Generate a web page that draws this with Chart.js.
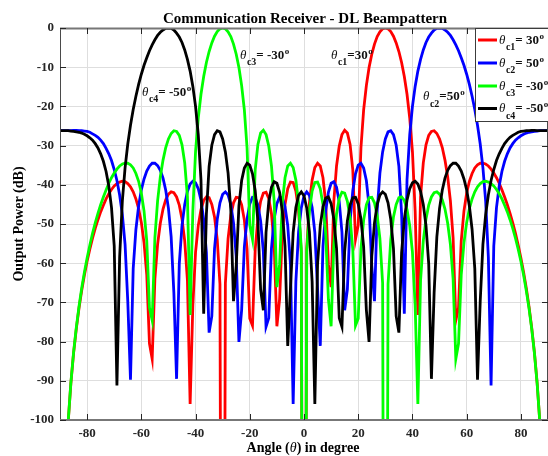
<!DOCTYPE html>
<html>
<head>
<meta charset="utf-8">
<script src="https://cdn.jsdelivr.net/npm/chart.js@4.4.1/dist/chart.umd.min.js"></script>
<style>
  html, body { margin: 0; padding: 0; background: #fff; }
  canvas { display: block; }
</style>
</head>
<body>
<canvas id="myChart" width="548" height="456"></canvas>
<script>
// angle grid, 1 degree step
var angles = [
  -90,-89,-88,-87,-86,-85,-84,-83,-82,-81,-80,-79,-78,-77,-76,-75,-74,-73,-72,-71,
  -70,-69,-68,-67,-66,-65,-64,-63,-62,-61,-60,-59,-58,-57,-56,-55,-54,-53,-52,-51,
  -50,-49,-48,-47,-46,-45,-44,-43,-42,-41,-40,-39,-38,-37,-36,-35,-34,-33,-32,-31,
  -30,-29,-28,-27,-26,-25,-24,-23,-22,-21,-20,-19,-18,-17,-16,-15,-14,-13,-12,-11,
  -10,-9,-8,-7,-6,-5,-4,-3,-2,-1,0,1,2,3,4,5,6,7,8,9,
  10,11,12,13,14,15,16,17,18,19,20,21,22,23,24,25,26,27,28,29,
  30,31,32,33,34,35,36,37,38,39,40,41,42,43,44,45,46,47,48,49,
  50,51,52,53,54,55,56,57,58,59,60,61,62,63,64,65,66,67,68,69,
  70,71,72,73,74,75,76,77,78,79,80,81,82,83,84,85,86,87,88,89,90
];

// output power (dB), theta_c1 = 30
var powC1 = [
  -300,-139,-114.7,-100.7,-90.7,-83.0,-76.8,-71.5,-67.0,-63.0,
  -59.5,-56.4,-53.6,-51.1,-48.9,-46.9,-45.2,-43.6,-42.3,-41.2,
  -40.3,-39.7,-39.3,-39.1,-39.2,-39.7,-40.5,-41.8,-43.6,-46.1,
  -49.6,-54.8,-62.9,-80.5,-84.4,-64.0,-55.2,-49.8,-46.2,-43.8,
  -42.4,-41.8,-42.0,-43.1,-45.2,-48.7,-54.3,-64.3,-95.9,-70.7,
  -57.2,-50.4,-46.3,-44.0,-43.1,-43.3,-45.0,-48.2,-54.0,-65.3,
  -300,-65.1,-53.7,-47.8,-44.6,-43.2,-43.3,-45.1,-49.0,-56.4,
  -74.1,-75.9,-56.5,-48.5,-44.2,-42.1,-41.9,-43.5,-47.4,-55.3,
  -76.1,-69.2,-52.4,-45.0,-41.0,-39.3,-39.4,-41.6,-46.6,-57.2,
  -300,-56.3,-44.7,-38.8,-35.6,-34.5,-35.2,-38.2,-44.6,-60.3,
  -66.1,-44.2,-35.2,-30.1,-27.2,-26.1,-26.8,-29.7,-36.2,-53.9,
  -50.3,-30.6,-20.9,-14.7,-10.1,-6.7,-4.1,-2.2,-1.0,-0.2,
  0,-0.2,-0.9,-2.1,-3.8,-6.0,-8.8,-12.4,-16.9,-23.0,
  -31.5,-46.7,-73.2,-43.0,-34.4,-29.8,-27.4,-26.4,-26.2,-26.9,
  -28.3,-30.5,-33.7,-38.0,-44.1,-53.5,-74.6,-71.3,-54.3,-46.7,
  -42.1,-39.1,-37.1,-35.7,-34.9,-34.5,-34.5,-34.7,-35.2,-36.0,
  -37.0,-38.2,-39.6,-41.3,-43.1,-45.1,-47.3,-49.7,-52.4,-55.4,
  -58.7,-62.3,-66.4,-71.1,-76.5,-82.8,-90.6,-100.6,-114.7,-139,
  -300
];

// theta_c2 = 50
var powC2 = [
  -26.2,-26.2,-26.2,-26.2,-26.2,-26.1,-26.1,-26.2,-26.2,-26.3,
  -26.4,-26.6,-27.0,-27.4,-27.9,-28.6,-29.5,-30.7,-32.1,-33.8,
  -36.1,-38.9,-42.6,-47.6,-55.2,-69.7,-89.7,-61.4,-51.4,-45.4,
  -41.3,-38.5,-36.5,-35.2,-34.5,-34.5,-35.1,-36.3,-38.3,-41.4,
  -46.0,-53.3,-67.5,-89.5,-60.1,-50.4,-45.0,-41.7,-39.8,-39.1,
  -39.5,-41.0,-43.9,-48.8,-57.3,-77.7,-73.5,-56.3,-48.8,-44.6,
  -42.4,-41.8,-42.6,-45.0,-49.7,-58.2,-80.1,-71.9,-55.8,-48.7,
  -44.9,-43.2,-43.3,-45.1,-49.2,-57.0,-76.2,-74.0,-56.2,-48.7,
  -44.8,-43.1,-43.4,-45.6,-50.4,-60.2,-95.9,-64.7,-52.0,-45.9,
  -42.8,-41.8,-42.7,-45.8,-52.2,-66.5,-81.1,-55.7,-46.7,-41.9,
  -39.6,-39.2,-40.6,-44.4,-52.1,-72.0,-66.7,-49.3,-41.5,-37.2,
  -35.0,-34.5,-35.7,-38.9,-45.4,-60.6,-69.7,-46.4,-37.0,-31.6,
  -28.3,-26.5,-26.2,-27.2,-29.9,-35.3,-47.4,-72.9,-38.7,-27.2,
  -20.0,-14.9,-11.0,-8.0,-5.6,-3.7,-2.3,-1.3,-0.5,-0.1,
  0,-0.1,-0.5,-1.1,-1.9,-3.0,-4.3,-5.8,-7.6,-9.5,
  -11.8,-14.4,-17.4,-20.8,-24.8,-29.6,-35.7,-44.1,-58.4,-91.2,
  -55.6,-45.8,-40.3,-36.6,-34.0,-32.1,-30.6,-29.5,-28.6,-28.0,
  -27.5,-27.1,-26.8,-26.6,-26.5,-26.4,-26.3,-26.2,-26.2,-26.2,
  -26.2
];

// theta_c3 = -30
var powC3 = [
  -300,-139,-114.7,-100.6,-90.6,-82.8,-76.5,-71.1,-66.4,-62.3,
  -58.7,-55.4,-52.4,-49.7,-47.3,-45.1,-43.1,-41.3,-39.6,-38.2,
  -37.0,-36.0,-35.2,-34.7,-34.5,-34.5,-34.9,-35.7,-37.1,-39.1,
  -42.1,-46.7,-54.3,-71.3,-74.6,-53.5,-44.1,-38.0,-33.7,-30.5,
  -28.3,-26.9,-26.2,-26.4,-27.4,-29.8,-34.4,-43.0,-73.2,-46.7,
  -31.5,-23.0,-16.9,-12.4,-8.8,-6.0,-3.8,-2.1,-0.9,-0.2,
  0,-0.2,-1.0,-2.2,-4.1,-6.7,-10.1,-14.7,-20.9,-30.6,
  -50.3,-53.9,-36.2,-29.7,-26.8,-26.1,-27.2,-30.1,-35.2,-44.2,
  -66.1,-60.3,-44.6,-38.2,-35.2,-34.5,-35.6,-38.8,-44.7,-56.3,
  -300,-57.2,-46.6,-41.6,-39.4,-39.3,-41.0,-45.0,-52.4,-69.2,
  -76.1,-55.3,-47.4,-43.5,-41.9,-42.1,-44.2,-48.5,-56.5,-75.9,
  -74.1,-56.4,-49.0,-45.1,-43.3,-43.2,-44.6,-47.8,-53.7,-65.1,
  -300,-65.3,-54.0,-48.2,-45.0,-43.3,-43.1,-44.0,-46.3,-50.4,
  -57.2,-70.7,-95.9,-64.3,-54.3,-48.7,-45.2,-43.1,-42.0,-41.8,
  -42.4,-43.8,-46.2,-49.8,-55.2,-64.0,-84.4,-80.5,-62.9,-54.8,
  -49.6,-46.1,-43.6,-41.8,-40.5,-39.7,-39.2,-39.1,-39.3,-39.7,
  -40.3,-41.2,-42.3,-43.6,-45.2,-46.9,-48.9,-51.1,-53.6,-56.4,
  -59.5,-63.0,-67.0,-71.5,-76.8,-83.0,-90.7,-100.7,-114.7,-139,
  -300
];

// theta_c4 = -50
var powC4 = [
  -26.2,-26.2,-26.2,-26.2,-26.3,-26.4,-26.5,-26.6,-26.8,-27.1,
  -27.5,-28.0,-28.6,-29.5,-30.6,-32.1,-34.0,-36.6,-40.3,-45.8,
  -55.6,-91.2,-58.4,-44.1,-35.7,-29.6,-24.8,-20.8,-17.4,-14.4,
  -11.8,-9.5,-7.6,-5.8,-4.3,-3.0,-1.9,-1.1,-0.5,-0.1,
  0,-0.1,-0.5,-1.3,-2.3,-3.7,-5.6,-8.0,-11.0,-14.9,
  -20.0,-27.2,-38.7,-72.9,-47.4,-35.3,-29.9,-27.2,-26.2,-26.5,
  -28.3,-31.6,-37.0,-46.4,-69.7,-60.6,-45.4,-38.9,-35.7,-34.5,
  -35.0,-37.2,-41.5,-49.3,-66.7,-72.0,-52.1,-44.4,-40.6,-39.2,
  -39.6,-41.9,-46.7,-55.7,-81.1,-66.5,-52.2,-45.8,-42.7,-41.8,
  -42.8,-45.9,-52.0,-64.7,-95.9,-60.2,-50.4,-45.6,-43.4,-43.1,
  -44.8,-48.7,-56.2,-74.0,-76.2,-57.0,-49.2,-45.1,-43.3,-43.2,
  -44.9,-48.7,-55.8,-71.9,-80.1,-58.2,-49.7,-45.0,-42.6,-41.8,
  -42.4,-44.6,-48.8,-56.3,-73.5,-77.7,-57.3,-48.8,-43.9,-41.0,
  -39.5,-39.1,-39.8,-41.7,-45.0,-50.4,-60.1,-89.5,-67.5,-53.3,
  -46.0,-41.4,-38.3,-36.3,-35.1,-34.5,-34.5,-35.2,-36.5,-38.5,
  -41.3,-45.4,-51.4,-61.4,-89.7,-69.7,-55.2,-47.6,-42.6,-38.9,
  -36.1,-33.8,-32.1,-30.7,-29.5,-28.6,-27.9,-27.4,-27.0,-26.6,
  -26.4,-26.3,-26.2,-26.2,-26.1,-26.1,-26.2,-26.2,-26.2,-26.2,
  -26.2
];

var xTicks = [-80, -60, -40, -20, 0, 20, 40, 60, 80];
var yTicks = [-100, -90, -80, -70, -60, -50, -40, -30, -20, -10, 0];

var seriesNames = ['c1', 'c2', 'c3', 'c4'];
var seriesLabels = ['= 30', '= 50', '= -30', '= -50'];
var seriesColors = ['#ff0000', '#0000ff', '#00ff00', '#000000'];
var seriesData = [powC1, powC2, powC3, powC4];

var SERIF = '"Liberation Serif", "Times New Roman", serif';

function toPoints(vals) {
    return angles.map(function (a, i) { return { x: a, y: vals[i] }; });
}

// draw text made of pieces (theta, subscript, main text, superscript)
function rich(ctx, x, y, parts) {
    parts.forEach(function (p) {
        ctx.font = p.f;
        ctx.fillText(p.t, x, y + (p.dy || 0));
        x += ctx.measureText(p.t).width + (p.gap || 0);
    });
    return x;
}

function thetaLabel(sub, main, size) {
    return [
        { t: '\u03b8', f: 'italic ' + size + 'px ' + SERIF, gap: 0.5 },
        { t: sub, f: 'bold ' + (size - 3) + 'px ' + SERIF, dy: 6.5 },
        { t: main, f: 'bold ' + size + 'px ' + SERIF, gap: 0.5 },
        { t: 'o', f: 'bold ' + (size - 4) + 'px ' + SERIF, dy: -5 }
    ];
}

var decor = {
    id: 'decor',
    afterDraw: function (chart) {
        var ctx = chart.ctx, a = chart.chartArea;
        var x = chart.scales.x, y = chart.scales.y;
        ctx.save();

        // axes box
        ctx.strokeStyle = '#4a4a4a';
        ctx.lineWidth = 1;
        ctx.beginPath();
        ctx.moveTo(a.left + 0.5, a.top);
        ctx.lineTo(a.left + 0.5, a.bottom);
        ctx.moveTo(a.right - 0.5, a.top);
        ctx.lineTo(a.right - 0.5, a.bottom);
        ctx.stroke();
        ctx.strokeStyle = '#777';
        ctx.lineWidth = 2;
        ctx.beginPath();
        ctx.moveTo(a.left, a.top + 0.5);
        ctx.lineTo(a.right, a.top + 0.5);
        ctx.moveTo(a.left, a.bottom);
        ctx.lineTo(a.right, a.bottom);
        ctx.stroke();

        // inward ticks
        ctx.strokeStyle = '#262626';
        ctx.lineWidth = 1;
        ctx.beginPath();
        xTicks.forEach(function (v) {
            var px = Math.round(x.getPixelForValue(v)) + 0.5;
            ctx.moveTo(px, a.bottom); ctx.lineTo(px, a.bottom - 6);
            ctx.moveTo(px, a.top); ctx.lineTo(px, a.top + 6);
        });
        yTicks.forEach(function (v) {
            var py = Math.round(y.getPixelForValue(v)) + 0.5;
            ctx.moveTo(a.left, py); ctx.lineTo(a.left + 6, py);
            ctx.moveTo(a.right, py); ctx.lineTo(a.right - 6, py);
        });
        ctx.stroke();

        // in-plot annotations
        ctx.fillStyle = '#111';
        ctx.textAlign = 'left';
        ctx.textBaseline = 'alphabetic';
        rich(ctx, 142, 95.5, thetaLabel('c4', '= -50', 13));
        rich(ctx, 240, 58.5, thetaLabel('c3', '= -30', 13));
        rich(ctx, 331, 58.5, thetaLabel('c1', '=30', 13));
        rich(ctx, 423, 100, thetaLabel('c2', '=50', 13));

        // legend
        var lx = 475.5, ly = 28.5;
        ctx.fillStyle = '#fff';
        ctx.fillRect(lx, ly, 80, 93);
        ctx.strokeStyle = '#3c3c3c';
        ctx.lineWidth = 1;
        ctx.strokeRect(lx, ly, 80, 93);
        var rows = [40, 63, 86, 108.5];
        seriesNames.forEach(function (n, i) {
            ctx.strokeStyle = seriesColors[i];
            ctx.lineWidth = 3;
            ctx.beginPath();
            ctx.moveTo(478, rows[i]);
            ctx.lineTo(497, rows[i]);
            ctx.stroke();
            ctx.fillStyle = '#111';
            rich(ctx, 499, rows[i] + 3.5, thetaLabel(n, seriesLabels[i], 13));
        });

        // title
        ctx.fillStyle = '#000';
        ctx.textAlign = 'center';
        ctx.font = 'bold 15px ' + SERIF;
        ctx.fillText('Communication Receiver - DL Beampattern', 305, 23);

        // y axis title
        ctx.save();
        ctx.translate(19, (a.top + a.bottom) / 2);
        ctx.rotate(-Math.PI / 2);
        ctx.textBaseline = 'middle';
        ctx.font = 'bold 14px ' + SERIF;
        ctx.fillText('Output Power (dB)', 0, 0);
        ctx.restore();

        // x axis title
        ctx.textAlign = 'left';
        var parts = [
            { t: 'Angle (', f: 'bold 14px ' + SERIF },
            { t: '\u03b8', f: 'italic 14px ' + SERIF },
            { t: ') in degree', f: 'bold 14px ' + SERIF }
        ];
        var w = 0;
        parts.forEach(function (p) { ctx.font = p.f; w += ctx.measureText(p.t).width; });
        rich(ctx, 303 - w / 2, 452, parts);

        ctx.restore();
    }
};

var ctx = document.getElementById('myChart').getContext('2d');
var myChart = new Chart(ctx, {
    type: 'line',
    data: {
        datasets: seriesData.map(function (vals, i) {
            return {
                label: seriesNames[i],
                data: toPoints(vals),
                borderColor: seriesColors[i],
                borderWidth: 2.8,
                pointRadius: 0,
                tension: 0,
                fill: false,
                order: 4 - i
            };
        })
    },
    options: {
        responsive: false,
        animation: false,
        layout: { padding: { top: 28, left: 0, right: 0, bottom: 0 } },
        plugins: { legend: { display: false }, tooltip: { enabled: false }, title: { display: false } },
        scales: {
            x: {
                type: 'linear',
                min: -90,
                max: 90,
                afterBuildTicks: function (s) { s.ticks = xTicks.map(function (v) { return { value: v }; }); },
                afterFit: function (s) { s.height = 36; },
                grid: { color: '#dedede', lineWidth: 1, drawTicks: false },
                border: { display: false },
                ticks: {
                    padding: 6,
                    maxRotation: 0,
                    color: '#262626',
                    font: { family: SERIF, size: 13, weight: 'bold' }
                }
            },
            y: {
                min: -100,
                max: 0,
                afterBuildTicks: function (s) { s.ticks = yTicks.map(function (v) { return { value: v }; }); },
                afterFit: function (s) { s.width = 60; },
                grid: { color: '#dedede', lineWidth: 1, drawTicks: false },
                border: { display: false },
                ticks: {
                    padding: 6,
                    color: '#262626',
                    font: { family: SERIF, size: 13, weight: 'bold' }
                }
            }
        }
    },
    plugins: [decor]
});
</script>
</body>
</html>
